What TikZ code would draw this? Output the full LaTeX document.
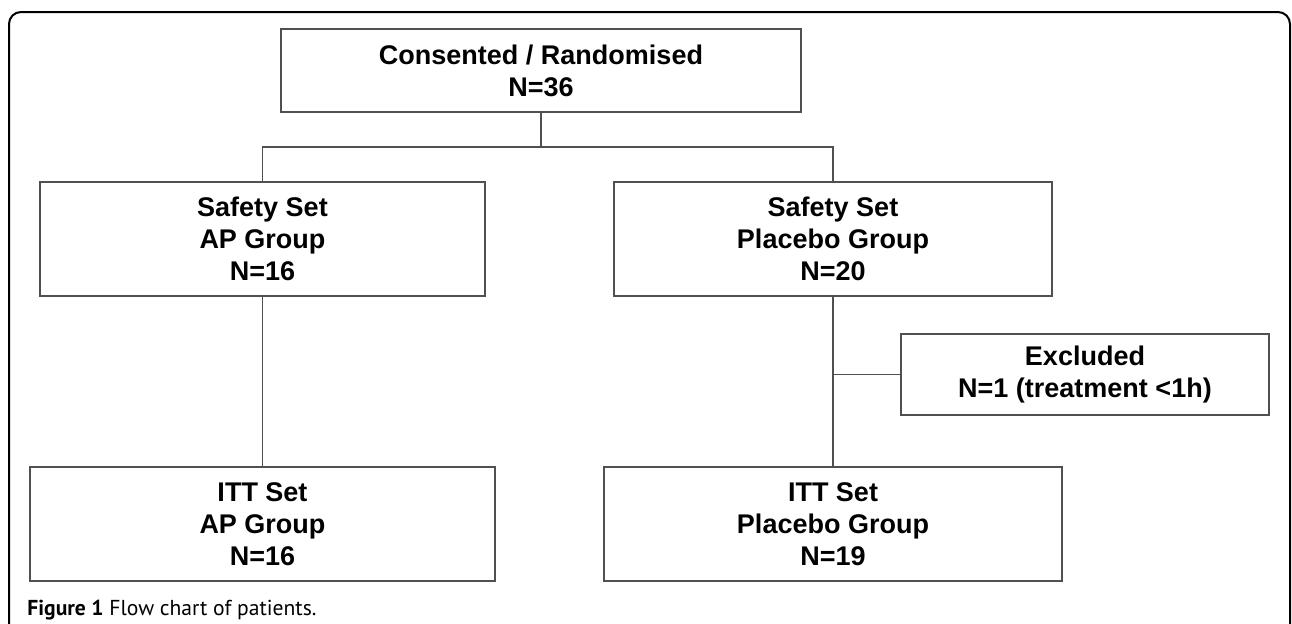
\documentclass[tikz,border=0pt]{standalone}
\usepackage{fontspec}
\setmainfont{Liberation Sans}
\newfontfamily\capfont{PT Sans}
\usepackage{tikz}
\usetikzlibrary{positioning,calc}
\definecolor{boxline}{HTML}{505050}

\begin{document}
\begin{tikzpicture}[x=0.5pt,y=-0.5pt,
  flowbox/.style={draw=boxline,line width=1pt,align=center,inner sep=0pt,
    font=\fontsize{13.5}{16}\selectfont\bfseries},
  link/.style={draw=boxline,line width=0.9pt}]
\useasboundingbox (0,0) rectangle (1292,623);
% outer frame
\draw[line width=1pt,rounded corners=6pt] (9,660) -- (9,12) -- (1290,12) -- (1290,660);
% boxes
\node[flowbox,minimum width=260pt,minimum height=41.5pt] (rand) at (541,70.5) {Consented / Randomised\\N=36};
\node[flowbox,minimum width=222.5pt,minimum height=57pt] (apsafe) at (262.5,239) {Safety Set\\AP Group\\N=16};
\node[flowbox,minimum width=219pt,minimum height=57pt] (plsafe) at (833,239) {Safety Set\\Placebo Group\\N=20};
\node[flowbox,minimum width=184pt,minimum height=40.5pt] (excl) at (1085,374.5) {Excluded\\N=1 (treatment <1h)};
\node[flowbox,minimum width=232.5pt,minimum height=57pt] (apitt) at (262.5,524) {ITT Set\\AP Group\\N=16};
\node[flowbox,minimum width=229pt,minimum height=57pt] (plitt) at (833,524) {ITT Set\\Placebo Group\\N=19};
% connectors
\coordinate (split) at (541,147);
\draw[link] (rand.south) -- (split);
\draw[link] (apsafe.north) |- (split) -| (plsafe.north);
\draw[link] (apsafe.south) -- (apitt.north);
\draw[link] (plsafe.south) -- (plitt.north);
\draw[link] (excl.west) -- (excl.west -| plsafe.south);
% caption
\node[anchor=base west,inner sep=0pt,font=\capfont\fontsize{10.8}{13}\selectfont] (cap) at (27,615) {\textbf{Figure 1} Flow chart of patients.};
\end{tikzpicture}
\end{document}
